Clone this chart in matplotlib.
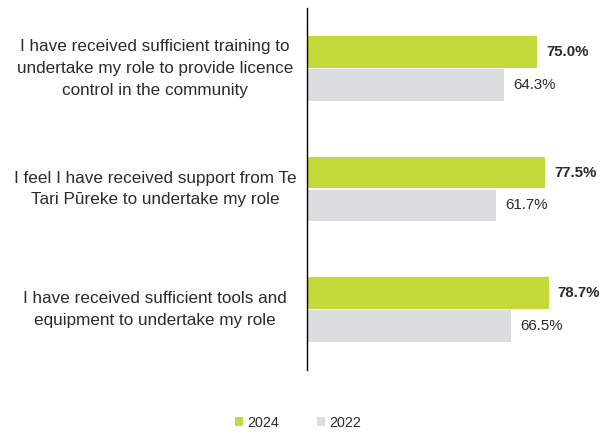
import matplotlib.pyplot as plt
import matplotlib.transforms as mtransforms

plt.rcParams['font.family'] = ['Liberation Sans', 'DejaVu Sans']

categories = [
    "I have received sufficient training to\nundertake my role to provide licence\ncontrol in the community",
    "I feel I have received support from Te\nTari P\u016breke to undertake my role",
    "I have received sufficient tools and\nequipment to undertake my role",
]
values_2024 = [75.0, 77.5, 78.7]
values_2022 = [64.3, 61.7, 66.5]
series_names = ["2024", "2022"]

green = "#c4d93a"
grey = "#dcddde"
text_color = "#2b2b2b"

fig = plt.figure(figsize=(6.12, 4.34), dpi=100)
ax = fig.add_axes([307 / 612, 64 / 434, 307 / 612, 362 / 434])

pos = list(range(len(categories)))
h = 0.262
off = 0.136
b1 = ax.barh([p - off for p in pos], values_2024, height=h, color=green,
             label=series_names[0])
b2 = ax.barh([p + off for p in pos], values_2022, height=h, color=grey,
             label=series_names[1])

for p, v in zip(pos, values_2024):
    ax.text(v + 3.0, p - off, f"{v:.1f}%", va="center", ha="left",
            fontsize=10.8, fontweight="bold", color=text_color)
for p, v in zip(pos, values_2022):
    ax.text(v + 3.0, p + off, f"{v:.1f}%", va="center", ha="left",
            fontsize=10.8, color=text_color)

trans = mtransforms.blended_transform_factory(fig.transFigure, ax.transData)
for p, lab in zip(pos, categories):
    ax.text(155 / 612, p, lab, transform=trans, ha="center", va="center",
            multialignment="center", fontsize=12.3, color=text_color,
            linespacing=1.56)

ax.set_xlim(0, 100)
ax.set_ylim(2.5, -0.5)
ax.set_xticks([])
ax.set_yticks([])
for s in ["top", "right", "bottom"]:
    ax.spines[s].set_visible(False)
ax.spines["left"].set_color("black")
ax.spines["left"].set_linewidth(1)

fig.legend(handles=[b1, b2], loc="lower center", bbox_to_anchor=(298 / 612, -0.02),
           ncol=2, frameon=False, handlelength=0.6, handleheight=0.6,
           handletextpad=0.3, columnspacing=2.6, fontsize=10.3,
           labelcolor=text_color)

fig.savefig("out.png", dpi=100)
